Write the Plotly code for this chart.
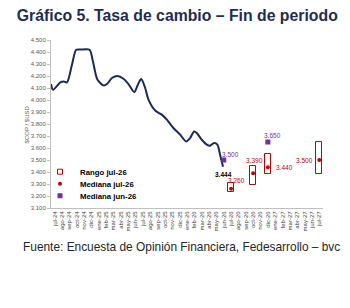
import plotly.graph_objects as go

months = ["jul-24","ago-24","sep-24","oct-24","nov-24","dic-24","ene-25","feb-25","mar-25","abr-25",
          "may-25","jun-25","jul-25","ago-25","sep-25","oct-25","nov-25","dic-25","ene-26","feb-26",
          "mar-26","abr-26","may-26","jun-26","jul-26","ago-26","sep-26","oct-26","nov-26","dic-26",
          "ene-27","feb-27","mar-27","abr-27","may-27","jun-27","jul-27"]

# Observed exchange rate (position in months since jul-24, value)
line_pos = [-0.5, -0.23, 0.76, 1.21, 1.67, 2.35, 2.93, 3.48, 4.74, 5.20, 5.83, 6.64, 7.11, 7.79,
            8.55, 9.36, 10.04, 10.82, 11.32, 11.77, 12.31, 12.76, 13.67, 14.58, 15.26, 16.15,
            17.07, 17.88, 18.42, 18.97, 19.33, 20.01, 20.69, 21.14, 21.68, 22.13, 22.50, 22.9]
line_val = [4133, 4086, 4147, 4155, 4147, 4294, 4419, 4420, 4419, 4322, 4169, 4122, 4133, 4183,
            4200, 4177, 4133, 4067, 4128, 4175, 4100, 4003, 3912, 3878, 3836, 3767,
            3711, 3655, 3683, 3738, 3725, 3669, 3628, 3619, 3642, 3628, 3544, 3444]

# Survey jul-26
fc_months = ["jul-26", "oct-26", "dic-26", "jul-27"]
fc_low = [3235, 3295, 3385, 3385]
fc_high = [3305, 3450, 3552, 3648]
fc_median = [3260, 3390, 3440, 3500]

# Previous survey jun-26
prev_months = ["jun-26", "dic-26"]
prev_median = [3500, 3650]

RED = "#C00000"
PURPLE = "#7030A0"
NAVY = "#1C2A55"
FONT = "Liberation Sans, Arial, sans-serif"

fc_x = [months.index(m) for m in fc_months]
prev_x = [months.index(m) for m in prev_months]

fig = go.Figure()
fig.add_trace(go.Scatter(x=line_pos, y=line_val, mode="lines",
                         line=dict(color=NAVY, width=2, shape="spline", smoothing=0.8),
                         showlegend=False, hoverinfo="skip"))
fig.add_trace(go.Bar(x=fc_x, y=[h - l for h, l in zip(fc_high, fc_low)], base=fc_low, width=0.85,
                     marker=dict(color="rgba(255,255,255,0)", line=dict(color=RED, width=1)),
                     showlegend=False))
# legend-only entry for the range boxes
fig.add_trace(go.Scatter(x=[None], y=[None], mode="markers", name="Rango jul-26", legend="legend",
                         marker=dict(color=RED, size=5, symbol="square-open", line=dict(width=1))))
fig.add_trace(go.Scatter(x=fc_x, y=fc_median, mode="markers", marker=dict(color=RED, size=4, symbol="circle"),
                         name="Mediana jul-26", legend="legend2"))
fig.add_trace(go.Scatter(x=prev_x, y=prev_median, mode="markers", marker=dict(color=PURPLE, size=5, symbol="square"),
                         name="Mediana jun-26", legend="legend3"))

def fmt(v):
    return f"{v:,}".replace(",", ".")

ann = []
ann.append(dict(x=line_pos[-1], y=line_val[-1], text="<b>" + fmt(line_val[-1]) + "</b>", showarrow=False,
                font=dict(color="#000000", size=6.5), yshift=-8))
ann.append(dict(x=prev_x[0], y=prev_median[0], text=fmt(prev_median[0]), showarrow=False,
                font=dict(color=PURPLE, size=6.5), yshift=6, xshift=7))
ann.append(dict(x=prev_x[1], y=prev_median[1], text=fmt(prev_median[1]), showarrow=False,
                font=dict(color=PURPLE, size=6.5), yshift=7, xshift=5))
ann.append(dict(x=fc_x[0], y=fc_median[0], text=fmt(fc_median[0]), showarrow=False,
                font=dict(color=RED, size=6.5), yshift=8, xshift=5))
ann.append(dict(x=fc_x[1], y=fc_high[1], text=fmt(fc_median[1]), showarrow=False,
                font=dict(color=RED, size=6.5), yshift=6, xshift=1))
ann.append(dict(x=fc_x[2], y=fc_median[2], text=fmt(fc_median[2]), showarrow=False,
                font=dict(color=RED, size=6.5), xanchor="left", xshift=6))
ann.append(dict(x=fc_x[3], y=fc_median[3], text=fmt(fc_median[3]), showarrow=False,
                font=dict(color=RED, size=6.5), xanchor="right", xshift=-4))
ann.append(dict(xref="paper", yref="paper", x=-0.105, y=0.5, text="$COP / $USD", textangle=-90, showarrow=False,
                font=dict(color="#595959", size=6)))
ann.append(dict(xref="paper", yref="paper", x=0.48, y=(208.3 - 247) / 168, xanchor="center", yanchor="middle",
                text="Fuente: Encuesta de Opinión Financiera, Fedesarrollo – bvc", showarrow=False,
                font=dict(color="#262626", size=11.9)))

def leg(ypix):
    return dict(x=(40 - 51) / 272, y=(208.3 - ypix) / 168, xanchor="left", yanchor="middle",
                bgcolor="rgba(0,0,0,0)", borderwidth=0,
                font=dict(size=7.8, color="#000000", weight="bold"), itemwidth=30)

fig.update_layout(
    width=350, height=308,
    margin=dict(l=51, r=27, t=40, b=100),
    paper_bgcolor="white", plot_bgcolor="white",
    font=dict(family=FONT),
    separators=",.",
    title=dict(text="<b>Gráfico 5. Tasa de cambio – Fin de periodo</b>", x=0.048, xanchor="left",
               y=1 - 15 / 308, yanchor="middle", font=dict(size=15.8, color="#1F2D4F")),
    annotations=ann,
    legend=leg(172), legend2=leg(184), legend3=leg(196),
    showlegend=True,
    bargap=0,
)
fig.update_xaxes(range=[-0.5, 36.5], tickmode="array", tickvals=list(range(len(months))), ticktext=months,
                 tickangle=-90, tickfont=dict(size=6, color="#404040"), showline=True, linecolor="#BFBFBF",
                 linewidth=1, showgrid=False, zeroline=False, ticks="")
fig.update_yaxes(range=[3100, 4500], dtick=100, tickformat=",d", tickfont=dict(size=6, color="#595959"),
                 showline=True, linecolor="#BFBFBF", linewidth=1, ticks="outside", ticklen=3, tickcolor="#BFBFBF",
                 showgrid=False, zeroline=False)

fig.write_html("out.html")
